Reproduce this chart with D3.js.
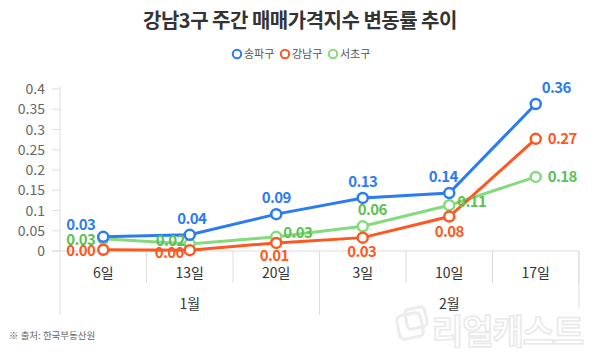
<!DOCTYPE html>
<html><head><meta charset="utf-8">
<script src="https://cdn.jsdelivr.net/npm/d3@7"></script>
<style>body{margin:0;background:#fff}svg{display:block;font-family:"Noto Sans CJK KR","Noto Sans",sans-serif}</style>
</head><body><svg id="c" width="600" height="358"></svg>
<script>
const days = ["6일","13일","20일","3일","10일","17일"];
const months = ["1월","2월"];
const monthSpan = [3,3];
const yTicks = [0,0.05,0.1,0.15,0.2,0.25,0.3,0.35,0.4];
const seriesNames = ["송파구","강남구","서초구"];
const songpa = [0.035,0.04,0.091,0.131,0.143,0.363];
const gangnam = [0.003,0.002,0.02,0.033,0.085,0.277];
const seocho = [0.03,0.017,0.035,0.061,0.113,0.183];
const songpaLabels = ["0.03","0.04","0.09","0.13","0.14","0.36"];
const gangnamLabels = ["0.00","0.00","0.01","0.03","0.08","0.27"];
const seochoLabels = ["0.03","0.02","0.03","0.06","0.11","0.18"];

const svg = d3.select("#c");
const x = d3.scaleBand().domain(days).range([60,579]);
const y = d3.scaleLinear().domain([0,0.4]).range([251,89]);

svg.append("text").attr("x",300).attr("y",28).attr("text-anchor","middle")
  .attr("font-size",20).attr("font-weight",700).attr("fill","#333").attr("letter-spacing","-0.5")
  .text("강남3구 주간 매매가격지수 변동률 추이");

const series = [
  {name:seriesNames[0], vals:songpa, labels:songpaLabels, color:"#2b7bf5", lcolor:"#2b7bf5"},
  {name:seriesNames[1], vals:gangnam, labels:gangnamLabels, color:"#ff5722", lcolor:"#ff5722"},
  {name:seriesNames[2], vals:seocho, labels:seochoLabels, color:"#84db7e", lcolor:"#5bc152"}
];

// legend
const legX = [237,285,333];
series.forEach((s,i)=>{
  const g = svg.append("g").attr("transform",`translate(${legX[i]},54)`);
  g.append("circle").attr("r",4.2).attr("fill","#fff").attr("stroke",s.color).attr("stroke-width",2);
  g.append("text").attr("x",7).attr("y",4).attr("font-size",11).attr("fill","#555").text(s.name);
});

// y axis
const ya = svg.append("g");
ya.append("line").attr("x1",60).attr("x2",60).attr("y1",86).attr("y2",315).attr("stroke","#ddd");
yTicks.forEach(t=>{
  ya.append("line").attr("x1",52).attr("x2",60).attr("y1",y(t)).attr("y2",y(t)).attr("stroke","#ddd");
  ya.append("text").attr("x",45).attr("y",y(t)+5).attr("text-anchor","end").attr("font-size",14)
    .attr("fill","#666").text(String(t));
});
svg.append("line").attr("x1",52).attr("x2",579).attr("y1",y(0)).attr("y2",y(0)).attr("stroke","#ddd");

// category table
days.forEach((d,i)=>{
  const bx = x(d)+x.bandwidth();
  svg.append("line").attr("x1",bx).attr("x2",bx).attr("y1",y(0)).attr("y2",283).attr("stroke","#ddd");
  svg.append("text").attr("x",x(d)+x.bandwidth()/2).attr("y",278).attr("text-anchor","middle")
    .attr("font-size",14).attr("fill","#333").text(d);
});
let start=0;
months.forEach((m,i)=>{
  const a = x(days[start]); const b = x(days[start+monthSpan[i]-1])+x.bandwidth();
  svg.append("line").attr("x1",b).attr("x2",b).attr("y1",y(0)).attr("y2",i===months.length-1?308:315).attr("stroke","#ddd");
  svg.append("text").attr("x",(a+b)/2).attr("y",309).attr("text-anchor","middle")
    .attr("font-size",14).attr("fill","#333").text(m);
  start += monthSpan[i];
});

// watermark
const wm = svg.append("g").attr("opacity",0.8);
wm.append("rect").attr("x",398).attr("y",314).attr("width",24).attr("height",24).attr("rx",5)
  .attr("fill","none").attr("stroke","#e8e8e8").attr("stroke-width",3).attr("transform","rotate(-12 410 326)");
wm.append("rect").attr("x",406).attr("y",308).attr("width",20).attr("height",20).attr("rx",4)
  .attr("fill","none").attr("stroke","#e8e8e8").attr("stroke-width",3).attr("transform","rotate(-12 416 318)");
wm.append("text").attr("x",432).attr("y",344).attr("font-size",34).attr("font-weight",700)
  .attr("fill","#fff").attr("stroke","#e4e4e4").attr("stroke-width",1.5).attr("letter-spacing","-1").text("리얼캐스트");

svg.append("text").attr("x",9).attr("y",339).attr("font-size",9.5).attr("fill","#666").text("※ 출처: 한국부동산원");

// lines
const line = d3.line().x((v,i)=>x(days[i])+x.bandwidth()/2).y(v=>y(v));
[series[2],series[1],series[0]].forEach(s=>{
  svg.append("path").datum(s.vals).attr("d",line).attr("fill","none").attr("stroke",s.color).attr("stroke-width",3);
});
[series[2],series[1],series[0]].forEach(s=>{
  svg.selectAll(null).data(s.vals).enter().append("circle")
    .attr("cx",(v,i)=>x(days[i])+x.bandwidth()/2).attr("cy",v=>y(v)).attr("r",5)
    .attr("fill","#fff").attr("stroke",s.color).attr("stroke-width",2.5);
});

// label offsets [dx, dy, anchor]
const offs = [
  [[-8,-7,"end"],[2,-11,"middle"],[0,-11,"middle"],[0,-11,"middle"],[-6,-11,"middle"],[6,-11,"start"]],
  [[-8,6,"end"],[-6,8,"end"],[-2,18,"middle"],[-1,19,"middle"],[0,20,"middle"],[12,5,"start"]],
  [[-8,6,"end"],[-5,2,"end"],[7,1,"start"],[-5,-11,"start"],[8,2,"start"],[12,5,"start"]]
];
series.forEach((s,si)=>{
  s.vals.forEach((v,i)=>{
    const o = offs[si][i];
    svg.append("text").attr("x",x(days[i])+x.bandwidth()/2+o[0]).attr("y",y(v)+o[1])
      .attr("text-anchor",o[2]).attr("font-size",15).attr("font-weight",700).attr("letter-spacing","-0.6")
      .attr("fill",s.lcolor).text(s.labels[i]);
  });
});
</script></body></html>
